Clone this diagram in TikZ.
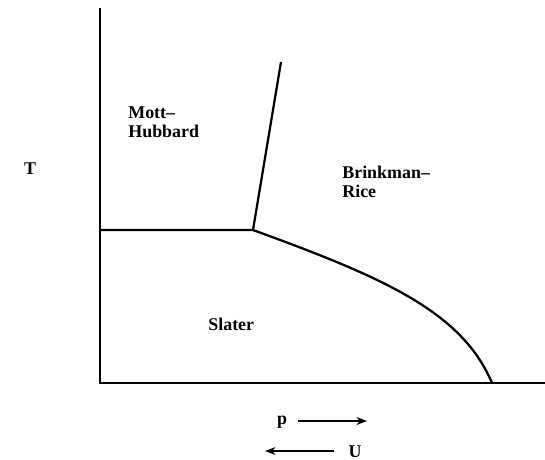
\documentclass[tikz,border=0pt]{standalone}
\usepackage{fontspec}
\setmainfont{Liberation Serif}
\usetikzlibrary{arrows.meta}
\begin{document}
\begin{tikzpicture}[
  x=0.02cm, y=-0.02cm,
  phase/.style={line width=1.3pt},
  lbl/.style={font=\fontsize{10.2}{10.8}\selectfont\bfseries, inner sep=0pt, align=left},
  dirarrow/.style={line width=0.8pt, -{Stealth[length=6pt,width=4.5pt]}},
  >=Stealth
]
  \useasboundingbox (0,0) rectangle (545,460);
  % axes
  \coordinate (O) at (100,383);
  \coordinate (Ttop) at (100,8);
  \coordinate (Pend) at (545,383);
  \draw[phase] (Ttop) -- (O) -- (Pend);
  % phase boundaries
  \coordinate (N) at (100,230);
  \coordinate (TP) at (253,230);
  \coordinate (MB) at (281,62);
  \coordinate (SB) at (492,383);
  \draw[phase] (N) -- (TP) -- (MB);
  \draw[phase] (TP) .. controls (385,278) and (462,312) .. (SB);
  % regions
  \node[lbl, anchor=base west] (mott) at (128,137) {Mott--\\Hubbard};
  \node[lbl, anchor=base west] (brink) at (342,197) {Brinkman--\\Rice};
  \node[lbl, anchor=base west] (slater) at (208,330) {Slater};
  \node[lbl, anchor=base] (T) at (30,174) {T};
  % directions
  \node[lbl, anchor=base] (p) at (282,424) {p};
  \coordinate (pA) at (298,421);
  \coordinate (pB) at (367,421);
  \draw[dirarrow] (pA) -- (pB);
  \node[lbl, anchor=base] (U) at (355,457) {U};
  \coordinate (uA) at (334,451);
  \coordinate (uB) at (265,451);
  \draw[dirarrow] (uA) -- (uB);
\end{tikzpicture}
\end{document}
